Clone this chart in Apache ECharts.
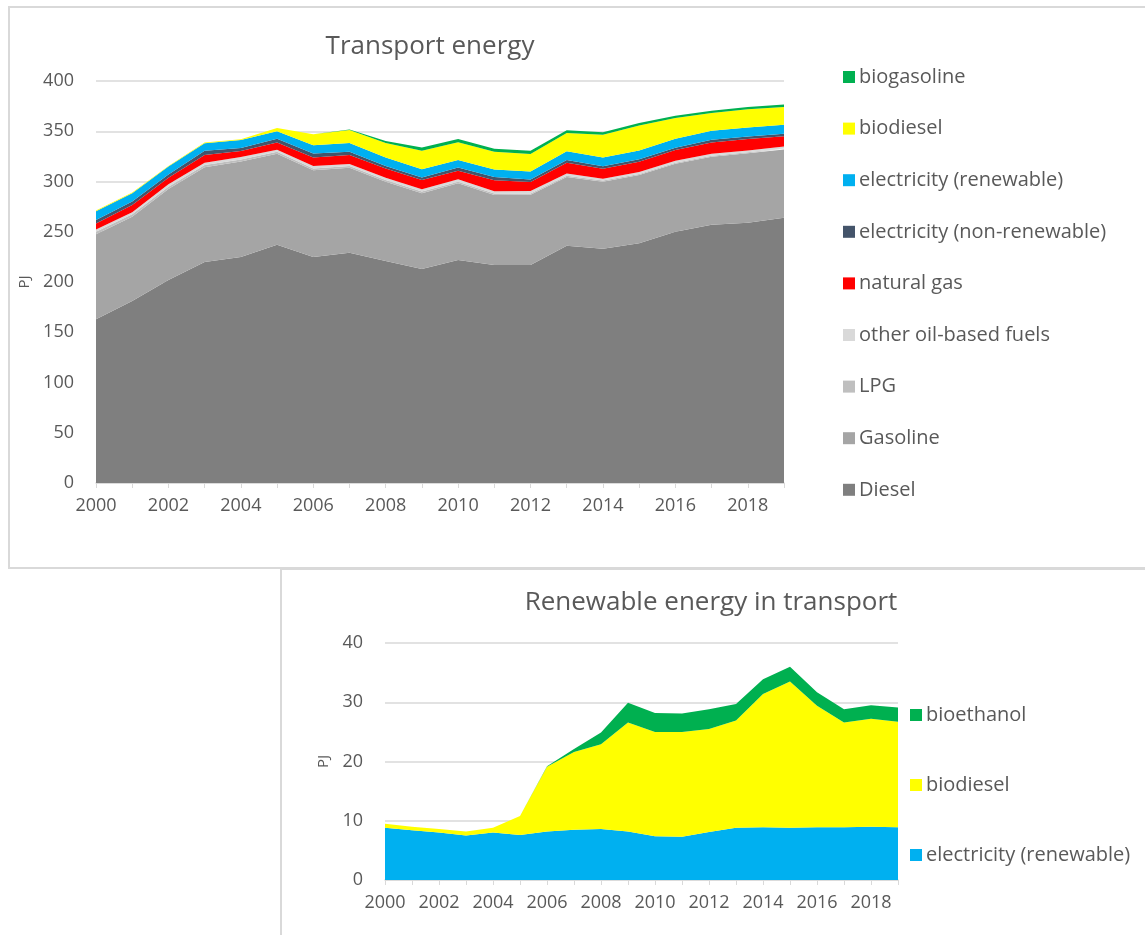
<!DOCTYPE html>
<html>
<head>
<meta charset="utf-8">
<title>Transport energy</title>
<script src="https://cdn.jsdelivr.net/npm/echarts@6/dist/echarts.min.js"></script>
<style>
    body { margin: 0; background: #fff; }
    #main { width: 1145px; height: 935px; }
</style>
</head>
<body>
<div id="main"></div>
<script>
// years 2000 - 2019
var years = ['2000','2001','2002','2003','2004','2005','2006','2007','2008','2009',
             '2010','2011','2012','2013','2014','2015','2016','2017','2018','2019'];

// transport energy (PJ)
var diesel     = [163, 181, 202, 220, 225, 237, 225, 229, 221, 213, 222, 217, 217, 236, 233, 238.5, 250, 257, 259, 264];
var gasoline   = [84.5, 84, 90.5, 94.2, 94.9, 90.7, 86.1, 84.6, 78.8, 75.4, 76.3, 69.6, 69.7, 68.6, 66.8, 67.9, 67.6, 67.7, 69, 67.8];
var lpg        = [2.5, 2.4, 2.3, 2.2, 2.1, 2, 1.9, 1.8, 1.7, 1.6, 1.5, 1.4, 1.3, 1.2, 1.2, 1.1, 1.1, 1, 1, 1];
var otherOil   = [2.3, 2.0, 2.4, 2.3, 2.3, 1.8, 2.3, 2.0, 2.3, 2.3, 2.4, 2.3, 2.6, 2.2, 1.8, 2.0, 2.0, 2.0, 1.8, 2.0];
var naturalGas = [6, 7.2, 6.6, 7.7, 6, 7.3, 8.6, 9, 9.2, 9.3, 8.6, 11, 8.9, 10.7, 9.9, 10.2, 10.6, 11.2, 11.6, 10.3];
var elecNonRen = [3.3, 3.4, 3.1, 4.2, 3, 3.7, 4, 3.3, 2.4, 2.3, 3.2, 3.3, 2.4, 2.7, 2.4, 2.4, 2.4, 2.7, 2.3, 2.4];
var elecRen    = [8.8, 8.4, 8.0, 7.5, 8.0, 7.6, 8.2, 8.5, 8.6, 8.2, 7.4, 7.3, 8.1, 8.8, 8.9, 8.8, 8.9, 8.9, 9.0, 8.9];
var biodiesel  = [0.7, 0.6, 0.6, 0.7, 0.8, 3.2, 10.9, 13.1, 14.3, 18.4, 17.6, 17.7, 17.4, 18.1, 22.5, 24.7, 20.5, 17.7, 18.2, 17.8];
var bioethanol = [0, 0, 0, 0, 0, 0, 0.1, 0.5, 2.0, 3.3, 3.2, 3.1, 3.3, 2.8, 2.5, 2.5, 2.3, 2.2, 2.3, 2.4];

var topTicks = [0, 50, 100, 150, 200, 250, 300, 350, 400];
var bottomTicks = [0, 10, 20, 30, 40];

var textColor = '#595959';
var lineColor = '#d9d9d9';
var font = '"Open Sans", "Noto Sans", sans-serif';

// one stacked area series
function area(name, data, color, stack, xi) {
    return {
        name: name,
        type: 'line',
        stack: stack,
        xAxisIndex: xi,
        yAxisIndex: xi,
        data: data,
        symbol: 'none',
        color: color,
        lineStyle: { width: 0 },
        areaStyle: { color: color, opacity: 1 },
        emphasis: { disabled: true }
    };
}

function xAxisOf(gi) {
    return {
        type: 'category',
        gridIndex: gi,
        data: years,
        boundaryGap: false,
        axisLine: { lineStyle: { color: lineColor, width: 1.5 } },
        axisTick: { show: true, interval: 0, length: 5, lineStyle: { color: lineColor } },
        axisLabel: { interval: 1, color: textColor, fontSize: 18, fontFamily: font, margin: 14 },
        splitLine: { show: false }
    };
}

function yAxisOf(gi, ticks, gap) {
    return {
        type: 'value',
        gridIndex: gi,
        min: ticks[0],
        max: ticks[ticks.length - 1],
        interval: ticks[1] - ticks[0],
        name: 'PJ',
        nameLocation: 'middle',
        nameRotate: 90,
        nameGap: gap,
        nameTextStyle: { color: textColor, fontSize: 15, fontFamily: font },
        axisLine: { show: false },
        axisTick: { show: false },
        axisLabel: { color: textColor, fontSize: 18, fontFamily: font, margin: 22 },
        splitLine: { lineStyle: { color: lineColor, width: 1.5 } }
    };
}

var myChart = echarts.init(document.getElementById('main'));

var option = {
    animation: false,
    backgroundColor: '#fff',
    graphic: [
        // chart frames
        { type: 'rect', shape: { x: 9, y: 7, width: 1160, height: 561 },
          style: { fill: 'none', stroke: lineColor, lineWidth: 2 } },
        { type: 'rect', shape: { x: 281, y: 569, width: 900, height: 400 },
          style: { fill: '#fff', stroke: lineColor, lineWidth: 2 } }
    ],
    title: [
        { text: 'Transport energy', left: 425, top: 29, textAlign: 'center',
          textStyle: { color: textColor, fontSize: 26, fontWeight: 'normal', fontFamily: font } },
        { text: 'Renewable energy in transport', left: 706, top: 585, textAlign: 'center',
          textStyle: { color: textColor, fontSize: 26, fontWeight: 'normal', fontFamily: font } }
    ],
    legend: [
        {
            orient: 'vertical', left: 843, top: 66, padding: 0,
            itemWidth: 12, itemHeight: 12, itemGap: 29.6, icon: 'rect',
            textStyle: { color: textColor, fontSize: 20, lineHeight: 22, fontFamily: font, padding: [0, 0, 0, -1] },
            data: ['biogasoline', 'biodiesel', 'electricity (renewable)', 'electricity (non-renewable)',
                   'natural gas', 'other oil-based fuels', 'LPG', 'Gasoline', 'Diesel'],
            selectedMode: false
        },
        {
            orient: 'vertical', left: 910, top: 704, padding: 0,
            itemWidth: 12, itemHeight: 12, itemGap: 48, icon: 'rect',
            textStyle: { color: textColor, fontSize: 20, lineHeight: 22, fontFamily: font, padding: [0, 0, 0, -1] },
            data: ['bioethanol', 'biodiesel', 'electricity (renewable)'],
            selectedMode: false
        }
    ],
    grid: [
        { left: 96, right: 361, top: 81, bottom: 452 },
        { left: 385, right: 247, top: 643, bottom: 55 }
    ],
    xAxis: [xAxisOf(0), xAxisOf(1)],
    yAxis: [yAxisOf(0, topTicks, 62), yAxisOf(1, bottomTicks, 54)],
    series: [
        area('Diesel', diesel, '#7f7f7f', 'top', 0),
        area('Gasoline', gasoline, '#a5a5a5', 'top', 0),
        area('LPG', lpg, '#bfbfbf', 'top', 0),
        area('other oil-based fuels', otherOil, '#d9d9d9', 'top', 0),
        area('natural gas', naturalGas, '#ff0000', 'top', 0),
        area('electricity (non-renewable)', elecNonRen, '#44546a', 'top', 0),
        area('electricity (renewable)', elecRen, '#00b0f0', 'top', 0),
        area('biodiesel', biodiesel, '#ffff00', 'top', 0),
        area('biogasoline', bioethanol, '#00b050', 'top', 0),

        area('electricity (renewable)', elecRen, '#00b0f0', 'ren', 1),
        area('biodiesel', biodiesel, '#ffff00', 'ren', 1),
        area('bioethanol', bioethanol, '#00b050', 'ren', 1)
    ]
};

myChart.setOption(option);
</script>
</body>
</html>
